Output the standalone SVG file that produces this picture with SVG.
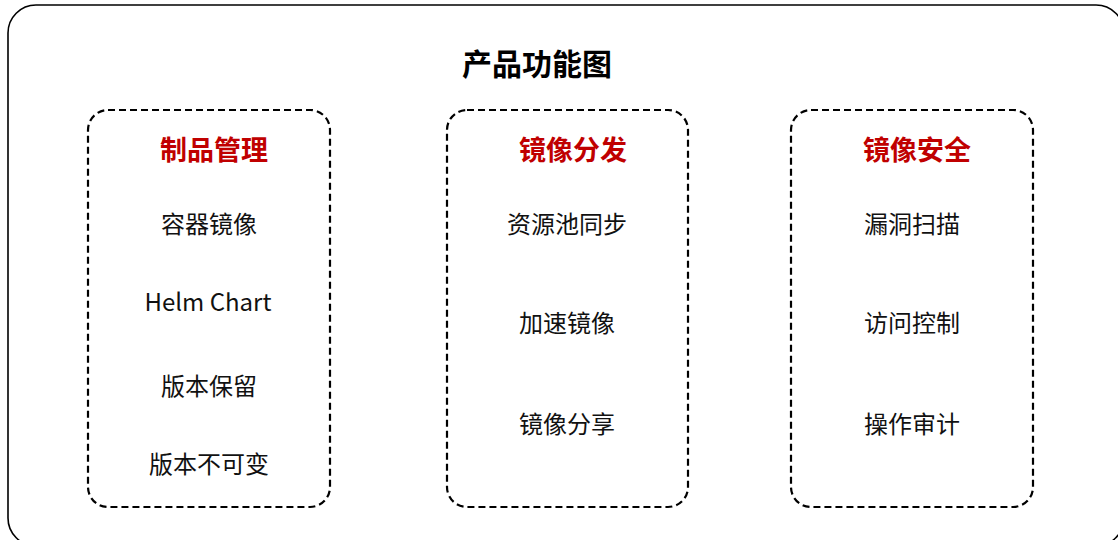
<svg xmlns="http://www.w3.org/2000/svg" width="1118" height="540" viewBox="0 0 1118 540">
<style>
text{font-family:"Noto Sans CJK SC","Noto Sans",sans-serif;text-anchor:middle}
.title{font-size:30px;font-weight:bold;fill:#000}
.head{font-size:27px;font-weight:bold;fill:#C00000}
.item{font-size:24px;fill:#111}
.box{fill:none;stroke:#000;stroke-width:2.2;stroke-dasharray:7 4}
</style>
<rect x="8" y="5" width="1116" height="541" rx="28" fill="#fff" stroke="#000" stroke-width="1.6"/>
<text class="title" x="537" y="75">产品功能图</text>
<g id="node-manage">
<rect class="box" x="88" y="110" width="242" height="397" rx="20"/>
<text class="head" x="214" y="160">制品管理</text>
<text class="item" x="209" y="233">容器镜像</text>
<text class="item" x="208" y="311" font-size="26">Helm Chart</text>
<text class="item" x="209" y="395">版本保留</text>
<text class="item" x="209" y="473">版本不可变</text>
</g>
<g id="node-dist">
<rect class="box" x="447" y="110" width="241" height="397" rx="20"/>
<text class="head" x="573" y="160">镜像分发</text>
<text class="item" x="567" y="233">资源池同步</text>
<text class="item" x="567" y="332">加速镜像</text>
<text class="item" x="567" y="433">镜像分享</text>
</g>
<g id="node-sec">
<rect class="box" x="791" y="110" width="242" height="397" rx="20"/>
<text class="head" x="917" y="160">镜像安全</text>
<text class="item" x="912" y="233">漏洞扫描</text>
<text class="item" x="912" y="332">访问控制</text>
<text class="item" x="912" y="433">操作审计</text>
</g>
<g id="connectors"></g>
</svg>
